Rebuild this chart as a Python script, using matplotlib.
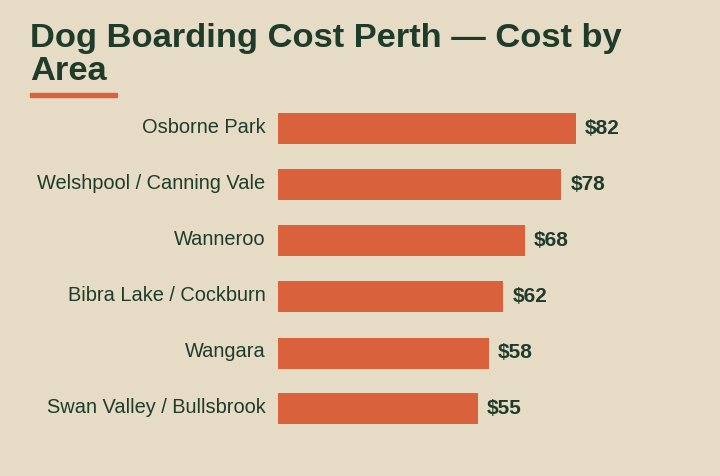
import matplotlib
matplotlib.use("Agg")
import matplotlib.pyplot as plt
from matplotlib.patches import Rectangle

areas = ["Osborne Park", "Welshpool / Canning Vale", "Wanneroo",
         "Bibra Lake / Cockburn", "Wangara", "Swan Valley / Bullsbrook"]
costs = [82, 78, 68, 62, 58, 55]

BG = "#e6dcc5"
GREEN = "#1f3b2a"
ORANGE = "#d9613c"
plt.rcParams['font.family'] = ['Liberation Sans', 'DejaVu Sans']

W, H = 720, 476
fig = plt.figure(figsize=(W/100, H/100), dpi=100, facecolor=BG)
ax = fig.add_axes([278/W, 1-437/H, (W-278)/W, 336/H])
ax.set_facecolor(BG)
y = list(range(len(areas)))
ax.barh(y, costs, height=31/56, color=ORANGE)
ax.set_ylim(len(areas)-0.5, -0.5)
ax.set_xlim(0, (W-278)/3.634)
for yi, c, a in zip(y, costs, areas):
    ax.annotate(f"${c}", (c, yi), xytext=(6.5, 0), textcoords="offset points",
                va="center", ha="left", fontsize=15, fontweight="bold", color=GREEN)
    ax.annotate(a, (0, yi), xytext=(-9, 1), textcoords="offset points",
                va="center", ha="right", fontsize=14.4, color=GREEN)
ax.axis("off")

fig.text(30/W, 1-39/H, "Dog Boarding Cost Perth — Cost by", fontsize=24.8,
         fontweight="bold", color=GREEN, va="center", ha="left")
fig.text(30/W, 1-72/H, "Area", fontsize=24.8,
         fontweight="bold", color=GREEN, va="center", ha="left")
fig.patches.append(Rectangle((30/W, 1-97/H), 87/W, 4/H, transform=fig.transFigure,
                             color=ORANGE))
fig.savefig("out.png", dpi=100, facecolor=BG)
